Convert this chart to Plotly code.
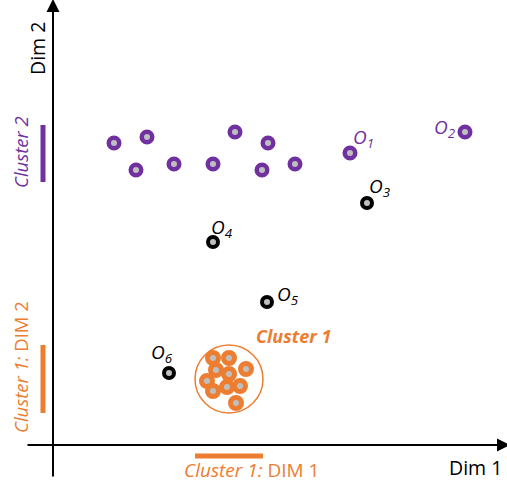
import plotly.graph_objects as go

# ---- data (Dim 1, Dim 2 units; origin at axes crossing) ----
cluster2_x = [61, 94, 83, 121, 160, 182, 215, 209, 242]
cluster2_y = [302, 308, 275, 281, 281, 313, 302, 275, 281]

cluster1_x = [160, 176, 163, 176, 193, 154, 174, 187, 160, 183]
cluster1_y = [87, 87, 75, 71, 76, 64, 58, 59, 54, 42]

outlier_purple_names = ["1", "2"]
outlier_purple_x = [297, 412]
outlier_purple_y = [292, 313]

outlier_black_names = ["3", "4", "5", "6"]
outlier_black_x = [314, 160, 214, 116]
outlier_black_y = [242, 203, 143, 72]

cluster1_center = [176, 66]
cluster1_radius = 34
cluster2_dim2_range = [263, 320]

PURPLE = "#7030A0"
ORANGE = "#ED7D31"
GRAY = "#BFBFBF"
FONT = "Open Sans"

fig = go.Figure()

def ring(x, y, color, size=10.5, lw=4.5):
    fig.add_trace(go.Scatter(
        x=x, y=y, mode="markers", hoverinfo="skip", showlegend=False,
        marker=dict(size=size, color=GRAY, line=dict(color=color, width=lw))))

ring(cluster2_x, cluster2_y, PURPLE)
ring(outlier_purple_x, outlier_purple_y, PURPLE)
ring(outlier_black_x, outlier_black_y, "black", size=10, lw=4)

# cluster 1 circle
cx, cy = cluster1_center
fig.add_shape(type="circle", x0=cx - cluster1_radius, x1=cx + cluster1_radius,
              y0=cy - cluster1_radius, y1=cy + cluster1_radius,
              line=dict(color=ORANGE, width=1.5), layer="below")
ring(cluster1_x, cluster1_y, ORANGE, size=11, lw=5)

# axes with arrows
fig.add_annotation(x=0, y=446, ax=0, ay=-33, xref="x", yref="y", axref="x", ayref="y",
                   showarrow=True, arrowhead=2, arrowsize=1.3, arrowwidth=2, arrowcolor="black", text="")
fig.add_annotation(x=457, y=0, ax=-27, ay=0, xref="x", yref="y", axref="x", ayref="y",
                   showarrow=True, arrowhead=2, arrowsize=1.3, arrowwidth=2, arrowcolor="black", text="")

# projection bars
bar_x = -10
bar_y = -11
fig.add_shape(type="line", x0=bar_x, x1=bar_x, y0=cluster2_dim2_range[0], y1=cluster2_dim2_range[1],
              line=dict(color=PURPLE, width=5))
fig.add_shape(type="line", x0=bar_x, x1=bar_x, y0=cy - cluster1_radius, y1=cy + cluster1_radius,
              line=dict(color=ORANGE, width=5))
fig.add_shape(type="line", x0=cx - cluster1_radius, x1=cx + cluster1_radius, y0=bar_y, y1=bar_y,
              line=dict(color=ORANGE, width=5))

def label(text, x, y, color, size=17, angle=0, xanchor="center", yanchor="middle", xs=0, ys=0):
    fig.add_annotation(x=x, y=y, text=text, showarrow=False, textangle=angle,
                       xanchor=xanchor, yanchor=yanchor, xshift=xs, yshift=ys,
                       font=dict(family=FONT, size=size, color=color))

label("Dim 2", -16, 396, "black", size=19.5, angle=-90)
label("Dim 1", 422, -22, "black", size=19.5)
label("<i>Cluster 2</i>", -33, 293, PURPLE, size=18.5, angle=-90)
label("<i>Cluster 1:</i> DIM 2", -33, 78, ORANGE, size=18.5, angle=-90)
label("<i>Cluster 1:</i> DIM 1", 198, -25, ORANGE, size=19)
label("<b><i>Cluster 1</i></b>", 240, 109, ORANGE, size=18)

# outlier labels
pshift = {"1": (1, 15, "left"), "2": (-8, 4, "right")}
for n, x, y in zip(outlier_purple_names, outlier_purple_x, outlier_purple_y):
    xs, ys, xa = pshift[n]
    label(f"<i>O<sub>{n}</sub></i>", x, y, PURPLE, size=19, xanchor=xa, xs=xs, ys=ys)
bshift = {"3": (0, 16), "4": (-4, 14), "5": (8, 7), "6": (-20, 20)}
for n, x, y in zip(outlier_black_names, outlier_black_x, outlier_black_y):
    xs, ys = bshift[n]
    label(f"<i>O<sub>{n}</sub></i>", x, y, "black", size=19, xanchor="left", xs=xs, ys=ys)

fig.update_layout(
    width=507, height=483, margin=dict(l=0, r=0, t=0, b=0),
    plot_bgcolor="white", paper_bgcolor="white", showlegend=False,
    xaxis=dict(range=[-53, 454], visible=False, fixedrange=True),
    yaxis=dict(range=[-38, 445], visible=False, fixedrange=True),
)

fig.write_html("out.html", config={"displayModeBar": False},
               post_script="document.body.style.margin='0';")
